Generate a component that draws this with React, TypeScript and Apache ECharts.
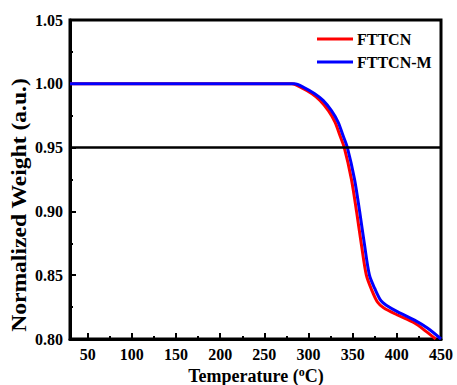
import React, { useEffect, useRef } from "react";
import * as echarts from "echarts";

const fttcnT = [30, 281, 293, 304, 313, 322.5, 330, 335.5, 340.5, 348.5, 354.5, 360, 365.5, 371.5, 378, 385, 400, 420, 433, 444];
const fttcnW = [1.0, 1.0, 0.9966, 0.9922, 0.987, 0.979, 0.97, 0.9596, 0.95, 0.9255, 0.8995, 0.8734, 0.85, 0.8385, 0.829, 0.8245, 0.819, 0.8125, 0.806, 0.8];
const fttcnMT = [30, 284, 296, 307, 316.5, 326, 333.5, 339, 344, 352, 358, 363.5, 369, 375, 382, 388, 401, 420, 435, 450];
const fttcnMW = [1.0, 1.0, 0.9966, 0.9922, 0.987, 0.979, 0.97, 0.9596, 0.95, 0.9255, 0.8995, 0.8734, 0.85, 0.8396, 0.83, 0.8265, 0.8213, 0.8148, 0.8084, 0.8];
const xMajor = [50, 100, 150, 200, 250, 300, 350, 400, 450];
const xMinor = [75, 125, 175, 225, 275, 325, 375, 425];
const threshold = 0.95;
const seriesNames = ["FTTCN", "FTTCN-M"];

const FONT = '"Liberation Serif", "Times New Roman", serif';

export default function App() {
  const ref = useRef<HTMLDivElement>(null);
  useEffect(() => {
    if (!ref.current) return;
    const chart = echarts.init(ref.current, undefined, { renderer: "svg" });
    const pairs = (t: number[], w: number[]) => t.map((x, i) => [x, w[i]]);
    chart.setOption({
      animation: false,
      backgroundColor: "#fff",
      grid: {
        left: 70,
        right: 16,
        top: 20,
        bottom: 46,
        show: true,
        borderColor: "#000",
        borderWidth: 3,
      },
      legend: {
        data: seriesNames,
        orient: "vertical",
        left: 317,
        top: 31,
        padding: 0,
        icon: "rect",
        itemWidth: 36,
        itemHeight: 3,
        itemGap: 7,
        textStyle: { fontFamily: FONT, fontWeight: "bold", fontSize: 16, color: "#000", padding: [0, 0, 0, -1] },
      },
      xAxis: [
        {
          type: "value",
          min: 30,
          max: 450,
          position: "bottom",
          axisLine: { lineStyle: { color: "#000", width: 3 } },
          axisTick: { inside: true, length: 6, lineStyle: { color: "#000", width: 2 }, customValues: xMajor },
          axisLabel: {
            customValues: xMajor,
            margin: 7,
            fontFamily: FONT,
            fontWeight: "bold",
            fontSize: 16,
            color: "#000",
          },
          splitLine: { show: false },
        },
        {
          type: "value",
          min: 30,
          max: 450,
          position: "bottom",
          axisLine: { show: false },
          axisTick: { inside: true, length: 3, lineStyle: { color: "#000", width: 2 }, customValues: xMinor },
          axisLabel: { show: false },
          splitLine: { show: false },
        },
      ],
      yAxis: {
        type: "value",
        min: 0.8,
        max: 1.05,
        interval: 0.05,
        axisLine: { show: true, lineStyle: { color: "#000", width: 3 } },
        axisTick: { show: true, inside: true, length: 6, lineStyle: { color: "#000", width: 2 } },
        minorTick: { show: true, splitNumber: 2, length: 3, lineStyle: { color: "#000", width: 2 } },
        axisLabel: {
          margin: 7,
          fontFamily: FONT,
          fontWeight: "bold",
          fontSize: 16,
          color: "#000",
          formatter: (v: number) => v.toFixed(2),
        },
        splitLine: { show: false },
      },
      graphic: [
        {
          type: "text",
          x: 20,
          y: 205,
          rotation: Math.PI / 2,
          scaleX: 1.18,
          style: {
            text: "Normalized Weight (a.u.)",
            fontFamily: FONT,
            fontWeight: "bold",
            fontSize: 20,
            fill: "#000",
            textAlign: "center",
            textVerticalAlign: "middle",
          },
        },
        {
          type: "text",
          x: 256,
          y: 366,
          style: {
            text: "{a|Temperature (}{s|o}{a|C)}",
            textAlign: "center",
            textVerticalAlign: "top",
            rich: {
              a: { fontFamily: FONT, fontWeight: "bold", fontSize: 18, fill: "#000", color: "#000" },
              s: {
                fontFamily: FONT,
                fontWeight: "bold",
                fontSize: 12,
                fill: "#000",
                color: "#000",
                verticalAlign: "top",
                padding: [0, 0, 8, 0],
              },
            },
          },
        },
      ],
      series: [
        {
          name: seriesNames[0],
          type: "line",
          xAxisIndex: 0,
          data: pairs(fttcnT, fttcnW),
          smooth: 0.3,
          symbol: "none",
          lineStyle: { color: "#ff0000", width: 3 },
          itemStyle: { color: "#ff0000" },
          z: 3,
        },
        {
          name: seriesNames[1],
          type: "line",
          xAxisIndex: 0,
          data: pairs(fttcnMT, fttcnMW),
          smooth: 0.3,
          symbol: "none",
          lineStyle: { color: "#0000ff", width: 3 },
          itemStyle: { color: "#0000ff" },
          z: 4,
          markLine: {
            silent: true,
            symbol: ["none", "none"],
            label: { show: false },
            lineStyle: { color: "#000", width: 2.5, type: "solid" },
            data: [{ yAxis: threshold }],
          },
        },
      ],
    });
    return () => chart.dispose();
  }, []);
  return <div ref={ref} style={{ position: "fixed", left: 0, top: 0, width: 457, height: 385 }} />;
}
